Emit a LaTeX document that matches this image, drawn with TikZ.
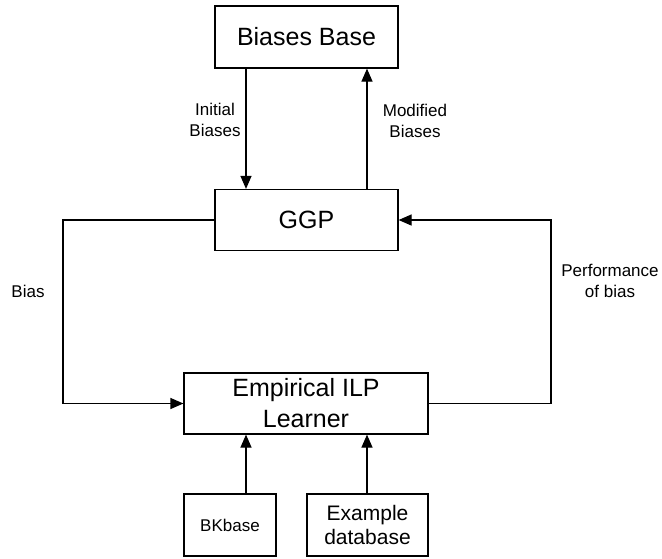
\documentclass[tikz,border=0pt]{standalone}
\usepackage{fontspec}
\setmainfont{Liberation Sans}
\usetikzlibrary{arrows.meta,calc}
\definecolor{ink}{HTML}{000000}

\begin{document}
\begin{tikzpicture}[x=1pt,y=-1pt,text=ink,line width=1.2pt,
  box/.style={draw=ink,minimum width=#1,inner sep=0pt,align=center,font=\fontsize{25}{31}\selectfont},
  smallbox/.style={draw=ink,minimum width=#1,minimum height=62pt,inner sep=0pt,align=center},
  lbl/.style={align=center,font=\fontsize{17}{20.5}\selectfont},
  arr/.style={-{Triangle[length=13pt,width=11pt]}}]
  \useasboundingbox (0,0) rectangle (662,558);
  % boxes
  \node[box=183pt,minimum height=62pt] (bbase) at (306.5,37) {Biases Base};
  \node[box=183pt,minimum height=61pt] (ggp) at (306.5,220) {GGP};
  \node[box=244pt,minimum height=61pt] (ilp) at (306,403.5) {Empirical ILP\\Learner};
  \node[smallbox=92pt,font=\fontsize{17}{20}\selectfont] (bk) at (230,525) {BKbase};
  \node[smallbox=121pt,font=\fontsize{21}{24}\selectfont] (exdb) at (367.5,525) {Example\\database};
  % ggp <-> biases base
  \coordinate (cl) at (246,0); \coordinate (cr) at (367,0);
  \draw[arr] (bbase.south -| cl) -- (ggp.north -| cl);
  \draw[arr] (ggp.north -| cr) -- (bbase.south -| cr);
  \node[lbl] (initlbl) at (215,120) {Initial\\Biases};
  \node[lbl] (modlbl) at (415,121) {Modified\\Biases};
  % loop round the learner
  \coordinate (lft) at (63,0); \coordinate (rgt) at (551,0);
  \draw[arr] (ggp.west) -- (ggp.west -| lft) -- (ilp.west -| lft) -- (ilp.west);
  \draw[arr] (ilp.east) -- (ilp.east -| rgt) -- (ggp.east -| rgt) -- (ggp.east);
  \node[lbl] (biaslbl) at (28,291) {Bias};
  \node[lbl] (perflbl) at (610,281) {Performance\\of bias};
  % inputs of the learner
  \draw[arr] (bk.north -| cl) -- (ilp.south -| cl);
  \draw[arr] (exdb.north -| cr) -- (ilp.south -| cr);
\end{tikzpicture}
\end{document}
